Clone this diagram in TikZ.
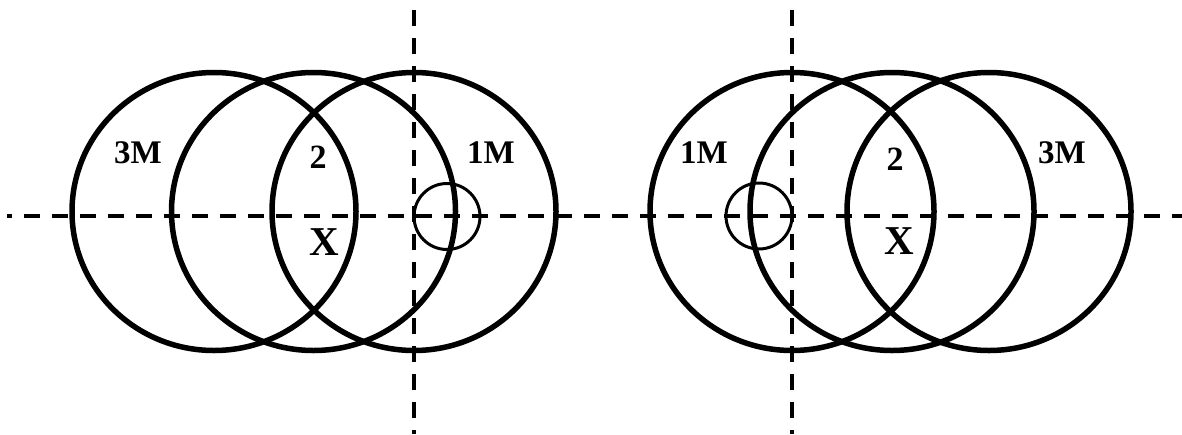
\documentclass[tikz,border=0pt]{standalone}
\usepackage{fontspec}
\setmainfont{Liberation Serif}
\begin{document}
\begin{tikzpicture}[x=1pt,y=-1pt,
  big/.style={line width=5.5pt},
  small/.style={line width=3pt},
  axisline/.style={line width=4pt, dash pattern=on 16pt off 12pt},
  lbl/.style={font=\bfseries\fontsize{33}{33}\selectfont, inner sep=0pt},
  lbltwo/.style={font=\bfseries\fontsize{34}{34}\selectfont, inner sep=0pt},
  lblx/.style={font=\bfseries\fontsize{41}{41}\selectfont, inner sep=0pt}]
\useasboundingbox (0,0) rectangle (1182,434);
% dashed axes
\coordinate (hs) at (7.3,216);
\coordinate (he) at (1182,216);
\coordinate (v1s) at (414,0);
\coordinate (v1e) at (414,434);
\coordinate (v2s) at (792,0);
\coordinate (v2e) at (792,434);
\draw[axisline, dash phase=11pt] (hs) -- (he);
\draw[axisline, dash phase=18pt] (v1s) -- (v1e);
\draw[axisline, dash phase=18pt] (v2s) -- (v2e);
% left group
\draw[big] (214,211.5) ellipse [x radius=142, y radius=139];
\draw[big] (313.5,211.5) ellipse [x radius=142, y radius=139];
\draw[big] (414,211.5) ellipse [x radius=142, y radius=139];
\draw[small] (447,216.5) circle [radius=33];
% right group
\draw[big] (792,211.5) ellipse [x radius=142, y radius=139];
\draw[big] (892,211.5) ellipse [x radius=142, y radius=139];
\draw[big] (989,211.5) ellipse [x radius=142, y radius=139];
\draw[small] (759,216) circle [radius=33];
% labels
\node[lbl] (l3m) at (138,153) {3M};
\node[lbltwo] (l2) at (318,157) {2};
\node[lblx] (lx) at (324,242) {X};
\node[lbl] (l1m) at (491,152.5) {1M};
\node[lbl] (r1m) at (704,153) {1M};
\node[lbltwo] (r2) at (895,159) {2};
\node[lblx] (rx) at (899,241) {X};
\node[lbl] (r3m) at (1062,153) {3M};
\end{tikzpicture}
\end{document}
